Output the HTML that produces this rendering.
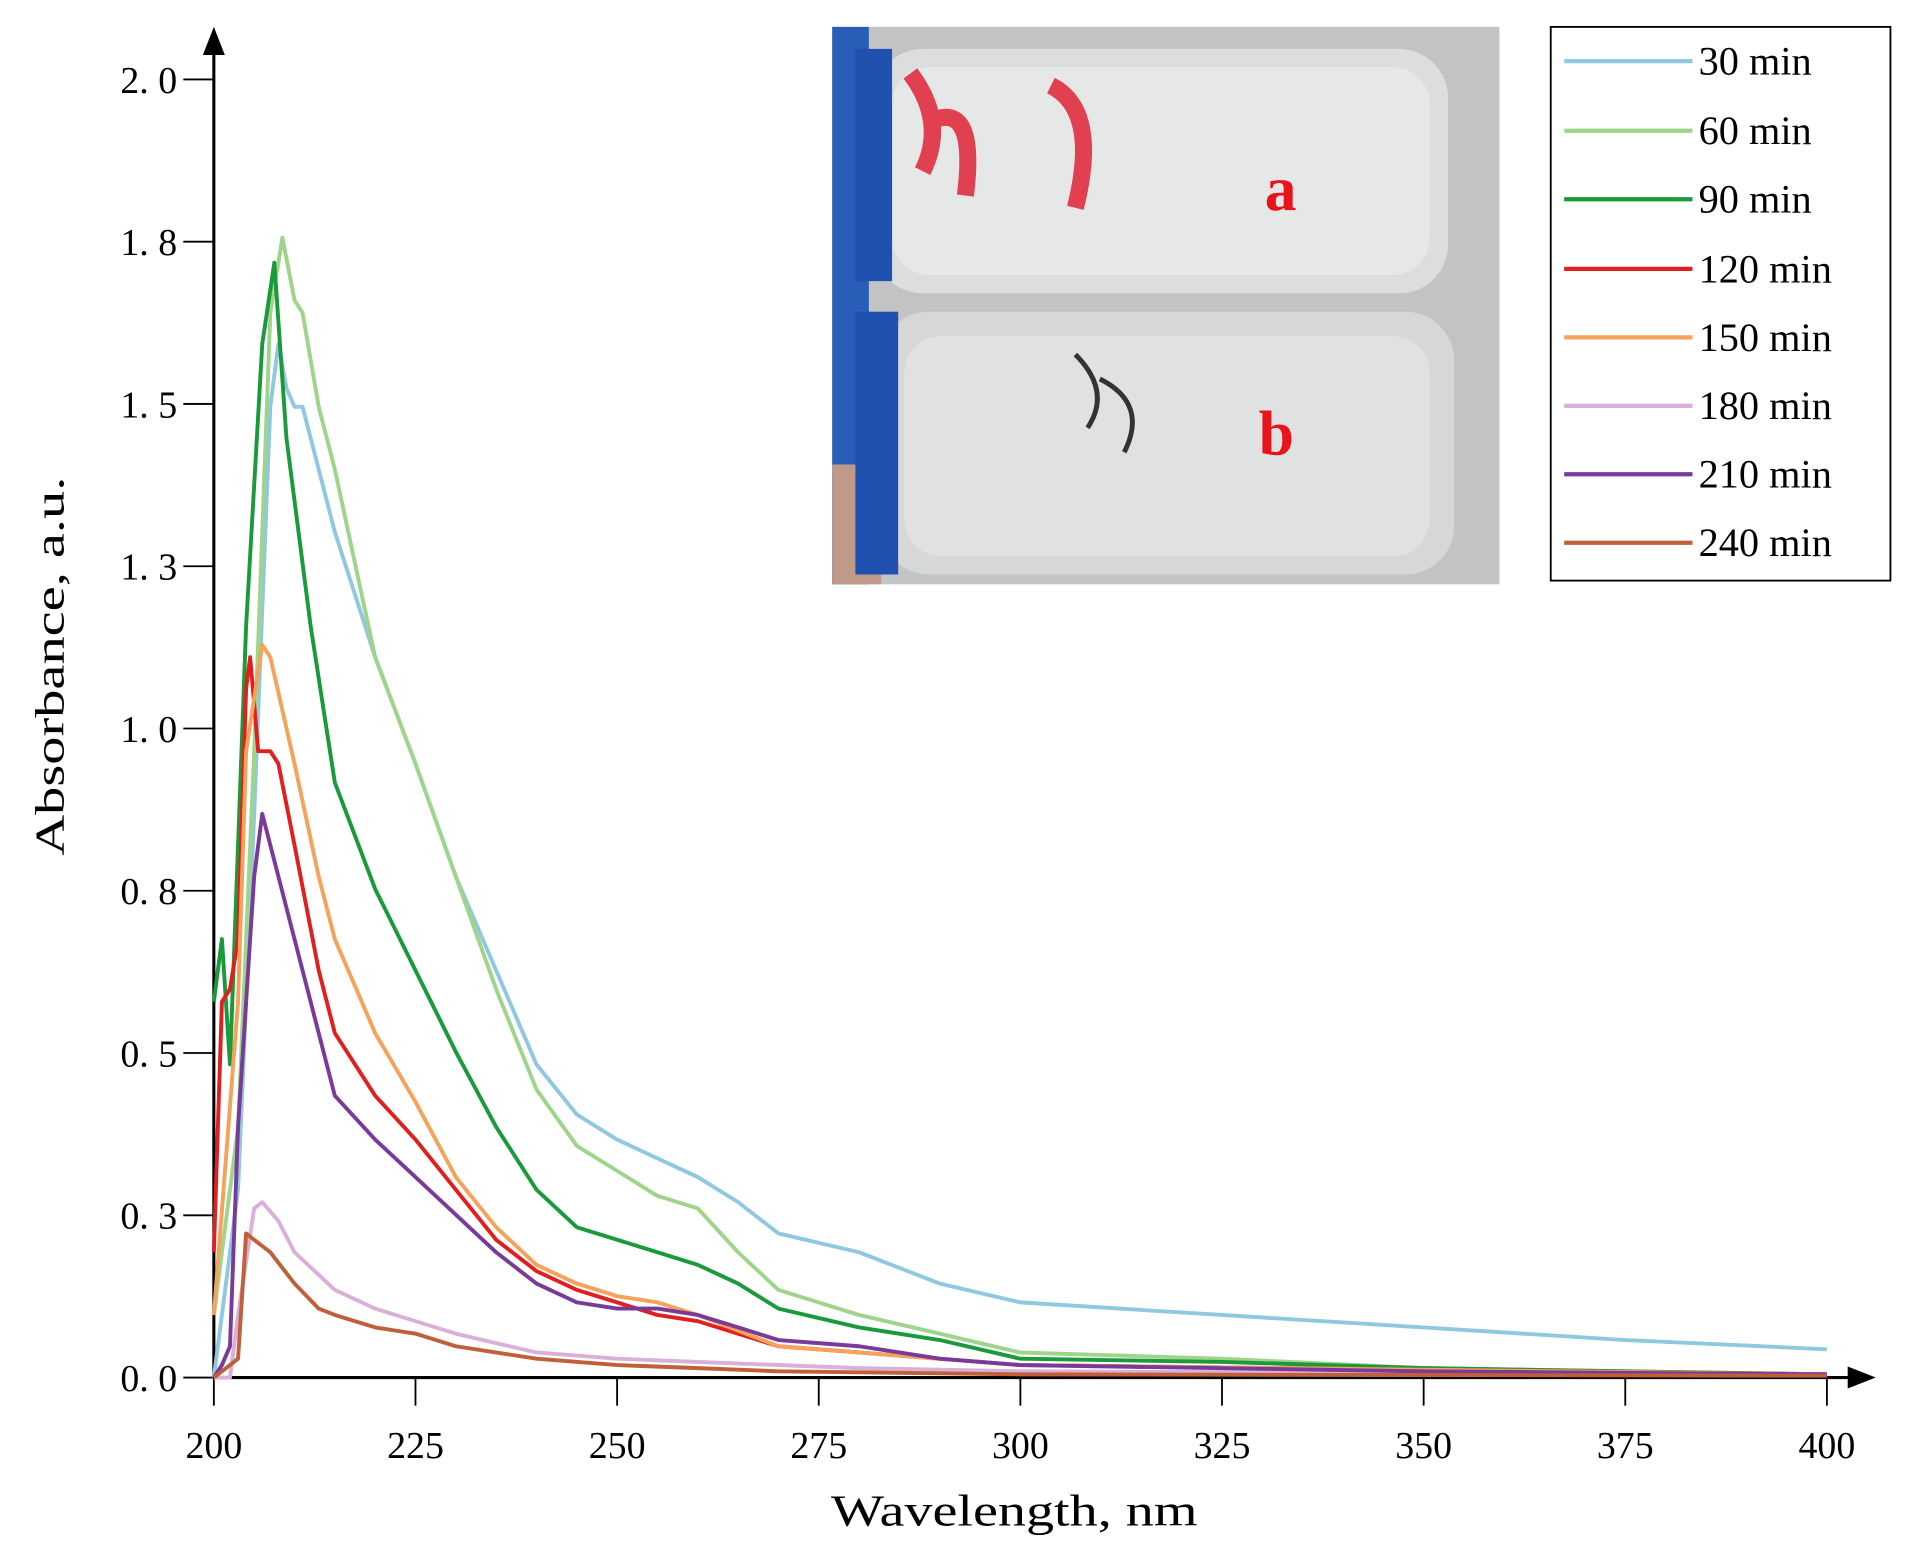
<!DOCTYPE html>
<html><head><meta charset="utf-8"><style>
html,body{margin:0;padding:0;background:#fff;}
svg{display:block}
text{font-family:"Liberation Serif",serif;}
</style></head><body>
<svg id="s" width="1910" height="1556" viewBox="0 0 1563 1273" preserveAspectRatio="none" xmlns="http://www.w3.org/2000/svg">
<rect width="1563" height="1273" fill="#fff"/>
<g>
<rect x="681" y="22" width="546" height="456" fill="#c9c9c6"/>
<rect x="681" y="22" width="546" height="456" fill="#b9bcbd" opacity="0.4"/>
<rect x="681" y="22" width="30" height="456" fill="#2a5db8"/>
<rect x="681" y="380" width="40" height="98" fill="#c09a88"/>
<rect x="715" y="40" width="470" height="200" rx="40" fill="#dcdedd"/>
<rect x="730" y="55" width="440" height="170" rx="30" fill="#e6e8e7"/>
<rect x="720" y="255" width="470" height="215" rx="40" fill="#d6d8d7"/>
<rect x="740" y="275" width="430" height="180" rx="30" fill="#e0e2e1"/>
<rect x="700" y="40" width="30" height="190" fill="#2050b0"/>
<rect x="700" y="255" width="35" height="215" fill="#2050b0"/>
<path d="M745 60 q30 40 10 80 M760 100 q40 -20 30 60 M860 70 q40 20 20 100" stroke="#e04050" stroke-width="14" fill="none"/>
<path d="M880 290 q30 30 10 60 M900 310 q40 20 20 60" stroke="#333" stroke-width="4" fill="none"/>
<text x="1035" y="172" font-family="Liberation Sans,sans-serif" font-weight="bold" font-size="52" fill="#e8141c">a</text>
<text x="1030" y="372" font-family="Liberation Sans,sans-serif" font-weight="bold" font-size="52" fill="#e8141c">b</text>
</g>
<rect x="1269" y="22" width="278" height="453" fill="#fff" stroke="#000" stroke-width="1.5"/>
<g id="leg" font-size="33"></g>
<g stroke="#000" stroke-width="2.5" fill="none">
<line x1="175" y1="1127" x2="1515" y2="1127"/>
<line x1="175" y1="1127" x2="175" y2="40"/>
</g>
<polygon points="1535,1127 1512,1118 1512,1136" fill="#000"/>
<polygon points="175,22 166,45 184,45" fill="#000"/>
<g id="ticks" stroke="#000" stroke-width="1.5"></g>
<g id="labs" font-size="31" fill="#000"></g>
<text transform="translate(52,545) rotate(-90)" text-anchor="middle" font-size="34" textLength="310" lengthAdjust="spacingAndGlyphs">Absorbance, a.u.</text>
<text x="830" y="1248" text-anchor="middle" font-size="36" textLength="300" lengthAdjust="spacingAndGlyphs">Wavelength, nm</text>
<g id="curves" fill="none" stroke-width="3.2" stroke-linejoin="round"></g>
</svg>
<script>
var NS="http://www.w3.org/2000/svg";
function X(w){return 175+(w-200)*6.6;} function Y(a){return 1127-a*531;}
function el(p,t,a,txt){var e=document.createElementNS(NS,t);for(var k in a)e.setAttribute(k,a[k]);if(txt)e.textContent=txt;p.appendChild(e);return e;}
var tk=document.getElementById('ticks'),lb=document.getElementById('labs');
for(var i=0;i<=8;i++){var w=200+25*i;el(tk,'line',{x1:X(w),y1:1127,x2:X(w),y2:1150});
el(lb,'text',{x:X(w),y:1193,'text-anchor':'middle'},String(w));}
var yl=['0. 0','0. 3','0. 5','0. 8','1. 0','1. 3','1. 5','1. 8','2. 0'];
for(var i=0;i<=8;i++){var y=Y(i*0.25);el(tk,'line',{x1:150,y1:y,x2:175,y2:y});
el(lb,'text',{x:145,y:y+11,'text-anchor':'end'},yl[i]);}
var S=[
['30 min','#8fc8e0',[[200,0],[203,0.3],[205,0.9],[207,1.55],[208,1.65],[209,1.58],[210,1.55],[211,1.55],[215,1.35],[220,1.15],[225,0.98],[230,0.8],[235,0.65],[240,0.5],[245,0.42],[250,0.38],[255,0.35],[260,0.32],[265,0.28],[270,0.23],[280,0.2],[290,0.15],[300,0.12],[325,0.1],[350,0.08],[375,0.06],[400,0.045]]],
['60 min','#9fd58a',[[200,0.1],[203,0.4],[205,1.0],[207,1.7],[208.5,1.82],[210,1.72],[211,1.7],[213,1.55],[215,1.45],[220,1.15],[225,0.98],[230,0.8],[235,0.62],[240,0.46],[245,0.37],[250,0.33],[255,0.29],[260,0.27],[265,0.2],[270,0.14],[280,0.1],[290,0.07],[300,0.04],[325,0.03],[350,0.015],[400,0.005]]],
['90 min','#1a9a3a',[[200,0.6],[201,0.7],[202,0.5],[204,1.2],[206,1.65],[207.5,1.78],[209,1.5],[210,1.4],[212,1.2],[215,0.95],[220,0.78],[225,0.65],[230,0.52],[235,0.4],[240,0.3],[245,0.24],[250,0.22],[255,0.2],[260,0.18],[265,0.15],[270,0.11],[280,0.08],[290,0.06],[300,0.03],[325,0.025],[350,0.015],[400,0.005]]],
['120 min','#e0201e',[[200,0.2],[201,0.6],[202,0.62],[203,0.7],[204,1.1],[204.5,1.15],[205.5,1.0],[207,1.0],[208,0.98],[210,0.85],[213,0.65],[215,0.55],[220,0.45],[225,0.38],[230,0.3],[235,0.22],[240,0.17],[245,0.14],[250,0.12],[255,0.1],[260,0.09],[270,0.05],[280,0.04],[300,0.02],[400,0.005]]],
['150 min','#f5a25a',[[200,0.1],[203,0.6],[204,1.0],[206,1.17],[207,1.15],[210,0.98],[213,0.8],[215,0.7],[220,0.55],[225,0.44],[230,0.32],[235,0.24],[240,0.18],[245,0.15],[250,0.13],[255,0.12],[260,0.1],[270,0.05],[280,0.04],[300,0.02],[400,0.005]]],
['180 min','#d8b0d8',[[200,0],[202,0],[203,0.1],[205,0.27],[206,0.28],[208,0.25],[210,0.2],[215,0.14],[220,0.11],[225,0.09],[230,0.07],[240,0.04],[250,0.03],[260,0.025],[280,0.015],[300,0.01],[400,0.005]]],
['210 min','#7a3a9a',[[200,0],[201,0.02],[202,0.05],[203,0.4],[205,0.8],[206,0.9],[207,0.85],[210,0.7],[213,0.55],[215,0.45],[220,0.38],[225,0.32],[230,0.26],[235,0.2],[240,0.15],[245,0.12],[250,0.11],[255,0.11],[260,0.1],[265,0.08],[270,0.06],[280,0.05],[290,0.03],[300,0.02],[350,0.01],[400,0.005]]],
['240 min','#c0603a',[[200,0],[202,0.02],[203,0.03],[204,0.23],[205,0.22],[207,0.2],[210,0.15],[213,0.11],[215,0.1],[220,0.08],[225,0.07],[230,0.05],[240,0.03],[250,0.02],[260,0.015],[270,0.01],[300,0.005],[400,0.003]]]
];
var cv=document.getElementById('curves'),lg=document.getElementById('leg');
var ly=[50,107,163,220,276,332,388,444];
S.forEach(function(s,i){
 el(cv,'polyline',{points:s[2].map(function(p){return X(p[0]).toFixed(1)+','+Y(p[1]*0.965).toFixed(1);}).join(' '),stroke:s[1]});
 el(lg,'line',{x1:1280,y1:ly[i],x2:1385,y2:ly[i],stroke:s[1],'stroke-width':3.5});
 el(lg,'text',{x:1390,y:ly[i]+11},s[0]);
});
</script>
</body></html>
